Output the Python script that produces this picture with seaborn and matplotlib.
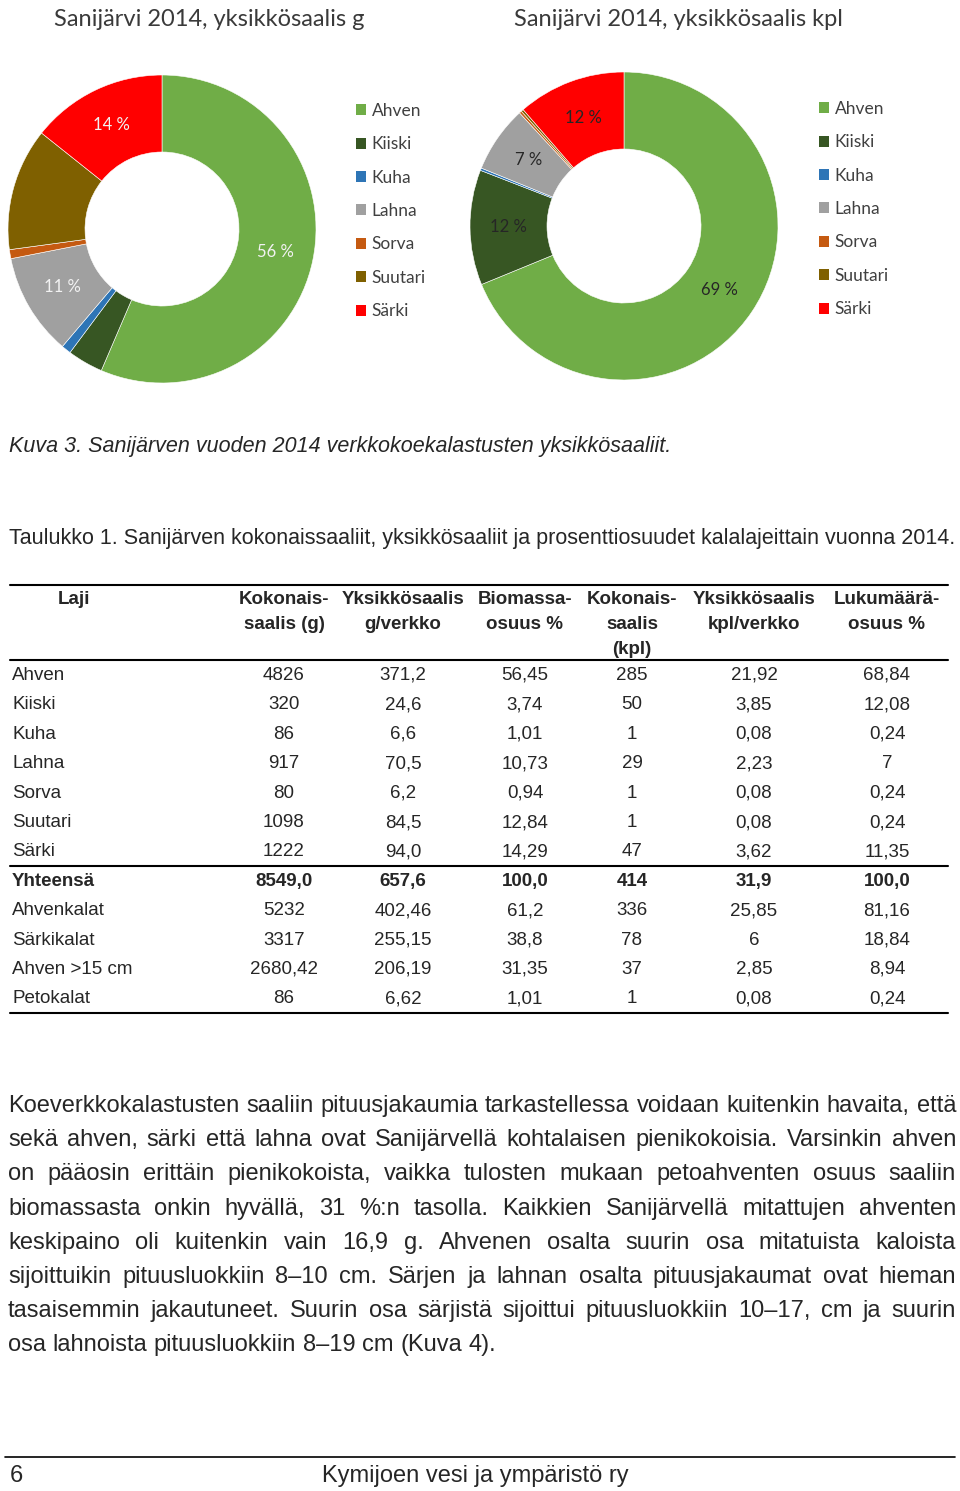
import numpy as np
import pandas as pd
import seaborn as sns
import matplotlib
matplotlib.use("Agg")
import matplotlib.pyplot as plt
from matplotlib.patches import Patch
from matplotlib.lines import Line2D

# ---------------- data ----------------
species = ["Ahven", "Kiiski", "Kuha", "Lahna", "Sorva", "Suutari", "Särki"]
g_per_net = [371.2, 24.6, 6.6, 70.5, 6.2, 84.5, 94.0]
kpl_per_net = [21.92, 3.85, 0.08, 2.23, 0.08, 0.08, 3.62]
g_pct_labels = ["56 %", "", "", "11 %", "", "", "14 %"]
kpl_pct_labels = ["69 %", "12 %", "", "7 %", "", "", "12 %"]
species_colors = ["#70AD47", "#375623", "#2E75B6", "#A0A0A0", "#C55A11", "#7F6000", "#FF0000"]

title_g = "Sanijärvi 2014, yksikkösaalis g"
title_kpl = "Sanijärvi 2014, yksikkösaalis kpl"
caption = "Kuva 3. Sanijärven vuoden 2014 verkkokoekalastusten yksikkösaaliit."
table_title = ("Taulukko 1. Sanijärven kokonaissaaliit, yksikkösaaliit ja prosenttiosuudet "
               "kalalajeittain vuonna 2014.")

header_laji = "Laji"
header_cols = [["Kokonais-", "saalis (g)"],
               ["Yksikkösaalis", "g/verkko"],
               ["Biomassa-", "osuus %"],
               ["Kokonais-", "saalis", "(kpl)"],
               ["Yksikkösaalis", "kpl/verkko"],
               ["Lukumäärä-", "osuus %"]]

row_names = ["Ahven", "Kiiski", "Kuha", "Lahna", "Sorva", "Suutari", "Särki",
             "Yhteensä", "Ahvenkalat", "Särkikalat", "Ahven >15 cm", "Petokalat"]
col_total_g = ["4826", "320", "86", "917", "80", "1098", "1222", "8549,0", "5232", "3317", "2680,42", "86"]
col_g_net = ["371,2", "24,6", "6,6", "70,5", "6,2", "84,5", "94,0", "657,6", "402,46", "255,15", "206,19", "6,62"]
col_bio_pct = ["56,45", "3,74", "1,01", "10,73", "0,94", "12,84", "14,29", "100,0", "61,2", "38,8", "31,35", "1,01"]
col_total_kpl = ["285", "50", "1", "29", "1", "1", "47", "414", "336", "78", "37", "1"]
col_kpl_net = ["21,92", "3,85", "0,08", "2,23", "0,08", "0,08", "3,62", "31,9", "25,85", "6", "2,85", "0,08"]
col_num_pct = ["68,84", "12,08", "0,24", "7", "0,24", "0,24", "11,35", "100,0", "81,16", "18,84", "8,94", "0,24"]
bold_rows = ["Yhteensä"]

body_lines = [
    "Koeverkkokalastusten saaliin pituusjakaumia tarkastellessa voidaan kuitenkin havaita, että",
    "sekä ahven, särki että lahna ovat Sanijärvellä kohtalaisen pienikokoisia. Varsinkin ahven",
    "on pääosin erittäin pienikokoista, vaikka tulosten mukaan petoahventen osuus saaliin",
    "biomassasta onkin hyvällä, 31 %:n tasolla. Kaikkien Sanijärvellä mitattujen ahventen",
    "keskipaino oli kuitenkin vain 16,9 g. Ahvenen osalta suurin osa mitatuista kaloista",
    "sijoittuikin pituusluokkiin 8–10 cm. Särjen ja lahnan osalta pituusjakaumat ovat hieman",
    "tasaisemmin jakautuneet. Suurin osa särjistä sijoittui pituusluokkiin 10–17, cm ja suurin",
    "osa lahnoista pituusluokkiin 8–19 cm (Kuva 4).",
]
footer_page = "6"
footer_text = "Kymijoen vesi ja ympäristö ry"

# ---------------- figure ----------------
W, H = 960, 1491
sns.set_theme(style="white")
plt.rcParams["font.family"] = ["Liberation Sans", "DejaVu Sans"]
fig = plt.figure(figsize=(W / 100, H / 100), dpi=100)
fig.patch.set_facecolor("white")


def fx(x):
    return x / W


def fy(y):
    return 1 - y / H


CHART_FONT = ["Lato", "DejaVu Sans"]


def donut(cx, cy, r, values, labels, lblcolor):
    ax = fig.add_axes([fx(cx - r), fy(cy + r), 2 * r / W, 2 * r / H])
    it = iter(labels)
    wedges, _, autotexts = ax.pie(
        values, colors=species_colors, startangle=90, counterclock=False,
        radius=1, pctdistance=0.75, autopct=lambda p: next(it),
        wedgeprops=dict(width=0.5, edgecolor="white", linewidth=0.4))
    for t in autotexts:
        t.set_color(lblcolor)
        t.set_fontsize(12)
        t.set_family(CHART_FONT)
    ax.set_xlim(-1, 1)
    ax.set_ylim(-1, 1)
    ax.set_aspect("equal")
    ax.axis("off")
    return ax


donut(162, 229, 154, g_per_net, g_pct_labels, "#F2F2F2")
donut(624, 226, 154, kpl_per_net, kpl_pct_labels, "#262626")

fig.text(fx(209), fy(19), title_g, ha="center", va="center", fontsize=17,
         family=CHART_FONT, color="#3A3A3A")
fig.text(fx(678), fy(19), title_kpl, ha="center", va="center", fontsize=17,
         family=CHART_FONT, color="#3A3A3A")

handles = [Patch(facecolor=c, edgecolor="none") for c in species_colors]
for lx, ly in [(356, 103), (819, 101)]:
    fig.legend(handles, species, loc="upper left", bbox_to_anchor=(fx(lx), fy(ly)),
               frameon=False, prop=dict(family=CHART_FONT, size=12.5),
               labelcolor="#404040", handlelength=0.6, handleheight=0.6,
               handletextpad=0.3, labelspacing=1.0, borderpad=0, borderaxespad=0)

# ---------------- captions ----------------
CAP = 15.5
fig.text(fx(9), fy(452), caption, fontsize=CAP, style="italic", va="baseline")
fig.text(fx(9), fy(544), table_title, fontsize=CAP, va="baseline")

# ---------------- table ----------------
TFS = 13.5
col_x = [284, 403, 525, 632, 754, 887]
hdr_y = [604, 629, 654]
fig.text(fx(74), fy(hdr_y[0]), header_laji, ha="center", va="baseline",
         fontsize=TFS, weight="bold")
for x, lines in zip(col_x, header_cols):
    for y, s in zip(hdr_y, lines):
        fig.text(fx(x), fy(y), s, ha="center", va="baseline", fontsize=TFS, weight="bold")

row_y0, row_dy = 680, 29.4
columns = [col_total_g, col_g_net, col_bio_pct, col_total_kpl, col_kpl_net, col_num_pct]
for i, name in enumerate(row_names):
    y = row_y0 + i * row_dy
    w = "bold" if name in bold_rows else "normal"
    fig.text(fx(12), fy(y), name, ha="left", va="baseline", fontsize=TFS, weight=w)
    for x, col in zip(col_x, columns):
        fig.text(fx(x), fy(y), col[i], ha="center", va="baseline", fontsize=TFS, weight=w)

for y in [585, 660, 866, 1013]:
    fig.add_artist(Line2D([fx(10), fx(948)], [fy(y), fy(y)], color="black", lw=1.5))

# ---------------- justified body paragraph ----------------
BFS = 17
renderer = fig.canvas.get_renderer()
x0, x1 = 8, 956
body_y0, body_dy = 1112, 34.2
space_w = BFS * 0.278 * 100 / 72
for li, line in enumerate(body_lines):
    y = body_y0 + li * body_dy
    words = line.split(" ")
    texts = [fig.text(0, fy(y), w, fontsize=BFS, va="baseline") for w in words]
    widths = [t.get_window_extent(renderer).width for t in texts]
    if li == len(body_lines) - 1:
        gap = space_w
    else:
        gap = (x1 - x0 - sum(widths)) / (len(words) - 1)
    x = x0
    for t, wd in zip(texts, widths):
        t.set_x(fx(x))
        x += wd + gap

# ---------------- footer ----------------
fig.add_artist(Line2D([fx(5), fx(955)], [fy(1457), fy(1457)], color="black", lw=1.2))
fig.text(fx(10), fy(1482), footer_page, fontsize=17, va="baseline")
fig.text(fx(475), fy(1482), footer_text, fontsize=17, va="baseline", ha="center")

fig.savefig("out.png", dpi=100, facecolor="white")
